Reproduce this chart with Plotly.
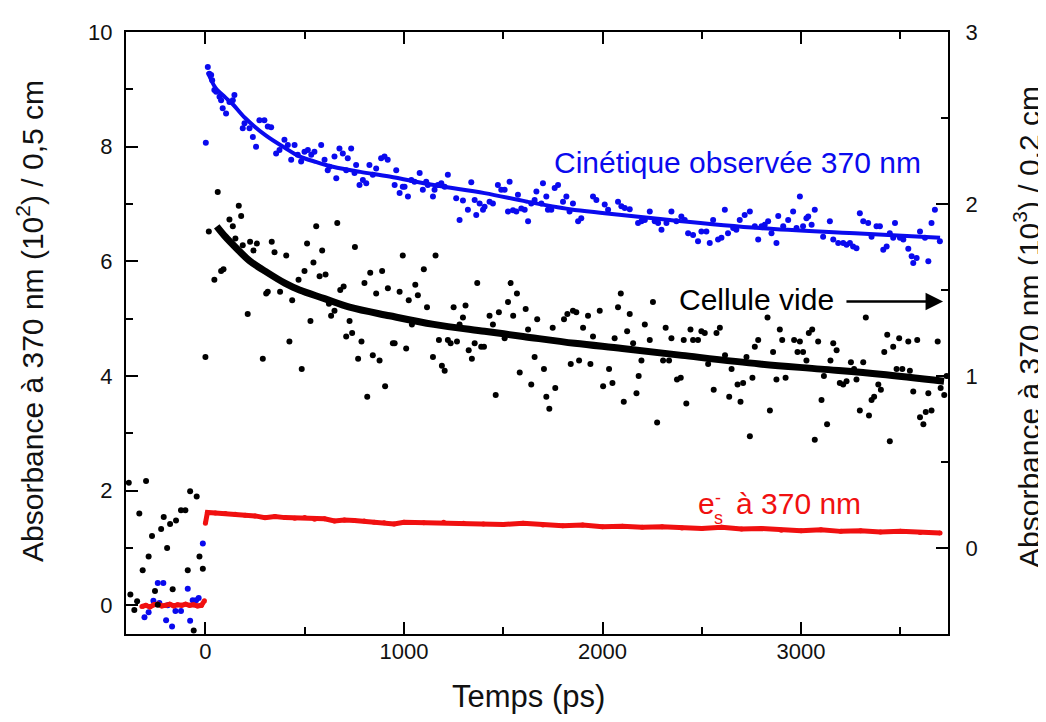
import plotly.graph_objects as go

# ---------------- data ----------------
# Blue: observed kinetics at 370 nm (left axis, 10^2 / 0.5 cm)
blue_t = [-307, -286, -262, -240, -232, -212, -198, -190, -168, -151, -123, -89, -77, -64, -47, -34, -13,
          2, 12, 20, 29, 34, 45, 54, 71, 79, 87, 104, 121, 138, 146, 188, 197, 222, 239, 255, 272,
          297, 314, 331, 356, 373, 398, 415, 432, 449, 465, 482, 499, 516, 533, 549, 583, 600, 616, 625, 650,
          659, 675, 692, 709, 717, 734, 751, 759, 776, 793, 810, 826, 843, 860, 885, 902, 918,
          953, 961, 978, 994, 1003, 1020, 1037, 1053, 1079, 1095, 1112, 1120, 1146, 1154, 1171, 1188, 1205, 1221, 1263, 1280,
          1297, 1322, 1339, 1356, 1364, 1381, 1398, 1406, 1431, 1448, 1473, 1490, 1507, 1524, 1532, 1549, 1566, 1574, 1591, 1608,
          1625, 1641, 1658, 1667, 1692, 1700, 1717, 1725, 1742, 1759, 1776, 1801, 1818, 1834,
          1851, 1877, 1893, 1952, 1969, 2011, 2028, 2078, 2095, 2112, 2137, 2179, 2196, 2213, 2238, 2263, 2280, 2297, 2322, 2347,
          2372, 2397, 2414, 2431, 2456, 2481, 2498, 2523, 2540, 2557, 2582, 2599, 2616, 2632, 2658, 2674, 2691, 2716, 2742, 2767, 2784,
          2801, 2817, 2834, 2851, 2876, 2885, 2910, 2935, 2960, 2977, 2994, 3010, 3027, 3036, 3053, 3069, 3111, 3145, 3162, 3187,
          3212, 3229, 3246, 3262, 3279, 3296, 3313, 3338, 3355, 3380, 3397, 3414, 3431, 3447, 3464, 3473, 3498, 3515, 3540, 3557,
          3565, 3582, 3599, 3624, 3641, 3657, 3674, 3699]
blue_v = [-0.21, -0.12, 0.08, 0.39, 0.04, 0.39, -0.26, 0.00, -0.37, -0.10, -0.10, 0.29, -0.27, 0.09, 0.09, 0.13, 1.08,
          8.07, 9.39, 9.27, 9.25, 9.16, 8.99, 8.96, 8.87, 8.81, 8.67, 8.58, 8.78, 8.81, 8.90, 8.32, 8.41, 8.32, 8.17, 8.00, 8.46,
          8.46, 8.35, 8.34, 7.88, 7.94, 8.12, 8.03, 7.77, 8.03, 7.86, 7.74, 7.91, 7.94, 7.86, 7.91, 8.03, 7.77, 7.59, 7.65, 7.83,
          7.45, 7.97, 7.88, 7.59, 7.80, 7.97, 7.54, 7.68, 7.33, 7.42, 7.36, 7.68, 7.51, 7.62, 7.80, 7.83, 7.77,
          7.33, 7.59, 7.19, 7.30, 7.30, 7.13, 7.42, 7.39, 7.54, 7.25, 7.39, 7.33, 7.13, 7.25, 7.33, 7.36, 7.30, 7.51, 7.10, 6.72,
          7.06, 6.90, 7.38, 7.07, 6.81, 7.01, 6.90, 6.95, 7.04, 7.01, 7.33, 7.25, 7.25, 6.87, 7.39, 6.89, 6.87, 7.16, 6.92, 6.90,
          6.70, 7.01, 7.07, 7.22, 7.01, 7.36, 7.13, 6.90, 6.90, 7.28, 7.33, 7.04, 7.13, 6.87,
          7.01, 6.70, 6.75, 7.13, 7.07, 6.99, 6.90, 7.04, 6.96, 6.93, 6.91, 6.67, 6.70, 6.72, 6.87, 6.70, 6.67, 6.55, 6.67, 6.87,
          6.70, 6.78, 6.72, 6.49, 6.46, 6.35, 6.52, 6.52, 6.32, 6.72, 6.38, 6.41, 6.90, 6.49, 6.58, 6.55, 6.72, 6.81, 6.87, 6.61, 6.38,
          6.61, 6.64, 6.70, 6.49, 6.32, 6.79, 6.61, 6.72, 6.87, 6.58, 7.13, 6.61, 6.75, 6.78, 6.64, 6.90, 6.43, 6.70, 6.38, 6.32,
          6.32, 6.29, 6.32, 6.26, 6.23, 6.84, 6.70, 6.67, 6.43, 6.61, 6.61, 6.20, 6.26, 6.49, 6.41, 6.67, 6.41, 6.38, 6.22, 6.09,
          5.97, 6.06, 6.52, 6.41, 6.00, 6.67, 6.90, 6.35]

blue_fit_t = [12, 50, 100, 138, 200, 302, 400, 474, 560, 642, 780, 927, 1150, 1406, 1620, 1835, 2011, 2339, 2792, 3272, 3700]
blue_fit_v = [9.30, 9.03, 8.86, 8.74, 8.50, 8.20, 7.98, 7.83, 7.73, 7.65, 7.56, 7.48, 7.33, 7.19, 7.04, 6.91, 6.84, 6.72, 6.58, 6.49, 6.41]

# Black: empty cell (right axis, 10^3 / 0.2 cm)
black_t = [-386, -378, -358, -344, -333, -316, -299, -286, -269, -254, -240, -223, -210, -193, -178, -165, -148, -123, -101, -89, -77, -59, -44, -30, -13,
           0, 17, 45, 62, 79, 91, 121, 138, 151, 168, 180, 188, 213, 225, 242, 259, 289, 306, 314, 334,
           348, 376, 407, 423, 437, 469, 485, 499, 512, 529, 544, 558, 575, 588, 605, 622, 633, 650, 664, 679,
           696, 709, 726, 739, 753, 769, 786, 801, 815, 830, 843, 860, 877, 890, 905, 919,
           944, 953, 978, 994, 1011, 1024, 1040, 1057, 1070, 1100, 1116, 1146, 1159, 1176, 1191, 1205, 1221, 1235, 1250, 1267,
           1280, 1297, 1310, 1326, 1342, 1356, 1369, 1389, 1403, 1431, 1448, 1462, 1478, 1507, 1524, 1537, 1550, 1569, 1583, 1613,
           1625, 1641, 1658, 1671, 1705, 1717, 1732, 1749, 1762, 1806, 1823, 1840, 1851,
           1868, 1882, 1902, 1927, 1939, 1952, 1986, 2003, 2033, 2050, 2061, 2078, 2092, 2107, 2124, 2137, 2154, 2171, 2182, 2196,
           2213, 2238, 2254, 2275, 2305, 2318, 2335, 2347, 2375, 2394, 2409, 2422, 2443, 2456, 2481, 2498, 2515, 2532, 2560, 2574,
           2591, 2617, 2638, 2650, 2680, 2695, 2708, 2725, 2742, 2755, 2767, 2784,
           2831, 2843, 2859, 2876, 2893, 2905, 2922, 2965, 2982, 2994, 3010, 3027, 3039, 3056, 3069, 3086, 3103, 3115, 3131, 3148,
           3162, 3179, 3195, 3212, 3229, 3251, 3267, 3279, 3296, 3313, 3326, 3342, 3355, 3368, 3389, 3402, 3419, 3434, 3447, 3464,
           3481, 3494, 3510, 3540, 3548, 3565, 3585, 3599, 3616, 3628, 3641, 3657, 3688, 3703, 3721, 3733]
black_v = [0.38, -0.27, -0.36, -0.31, 0.20, -0.13, 0.39, -0.05, 0.07, -0.25, -0.33, 0.11, 0.18, 0.00, 0.14, -0.24, 0.16, 0.22, 0.22, -0.13, 0.33, -0.48, 0.30, -0.05, -0.12,
           1.11, 1.84, 1.56, 2.07, 1.61, 1.62, 1.91, 1.87, 1.80, 1.99, 1.93, 1.76, 1.36, 1.78, 1.73, 1.77, 1.10, 1.48, 1.49, 1.78,
           1.72, 1.49, 1.70, 1.20, 1.44, 1.56, 1.04, 1.61, 1.77, 1.32, 1.66, 1.87, 1.58, 1.73, 1.59, 1.42, 1.35, 1.38, 1.89, 1.50,
           1.52, 1.23, 1.32, 1.25, 1.75, 1.10, 1.20, 1.54, 0.88, 1.60, 1.12, 1.48, 1.09, 1.61, 0.94, 1.51,
           1.19, 1.19, 1.49, 1.70, 1.16, 1.44, 1.30, 1.53, 1.47, 1.62, 1.40, 1.11, 1.70, 1.21, 1.06, 1.03, 1.21, 1.19, 1.40, 1.20,
           1.30, 1.34, 1.41, 1.15, 1.10, 1.19, 1.54, 1.17, 1.17, 1.35, 1.30, 0.89, 1.37, 1.22, 1.43, 1.54, 1.35, 1.48, 1.02, 1.39,
           1.27, 0.95, 1.11, 1.33, 1.04, 0.88, 0.81, 1.28, 0.93, 1.33, 1.36, 1.07, 1.38,
           1.37, 1.09, 1.28, 1.35, 1.07, 1.23, 1.38, 0.94, 1.04, 0.96, 1.22, 1.40, 1.48, 0.85, 1.26, 1.36, 1.19, 0.90, 1.00, 1.09,
           1.30, 1.21, 1.43, 0.73, 1.09, 1.28, 1.09, 1.22, 0.98, 0.99, 1.21, 0.84, 1.27, 1.21, 1.21, 1.26, 1.25, 1.07, 0.92, 1.25,
           1.28, 1.12, 0.88, 1.04, 0.95, 0.85, 0.96, 1.11, 0.65, 0.99, 1.17, 1.21,
           1.34, 0.80, 1.14, 0.98, 1.27, 1.21, 0.99, 1.21, 1.14, 1.20, 1.14, 1.09, 1.25, 1.27, 0.63, 1.20, 0.86, 1.00, 0.72, 1.09,
           1.19, 1.15, 0.96, 0.95, 0.97, 1.08, 1.04, 0.98, 0.80, 1.08, 1.34, 0.77, 0.86, 0.88, 0.95, 0.92, 1.14, 1.24, 0.62, 1.17,
           1.04, 1.22, 1.04, 1.20, 1.03, 0.91, 1.21, 0.76, 0.72, 0.79, 0.90, 0.80, 1.20, 0.93, 0.89, 1.00]

black_fit_t = [57, 100, 150, 222, 300, 400, 474, 600, 726, 927, 1150, 1406, 1600, 1860, 2100, 2400, 2792, 3100, 3400, 3720]
black_fit_v = [1.87, 1.81, 1.75, 1.67, 1.61, 1.54, 1.50, 1.45, 1.40, 1.35, 1.30, 1.26, 1.23, 1.19, 1.16, 1.12, 1.07, 1.04, 1.01, 0.97]

# Red: solvated electron e_s- at 370 nm (left axis)
red_t = [-320, -300, -280, -260, -240, -220, -200, -180, -160, -140, -120, -100, -80, -60, -40, -20, -5, None,
         0, 10, 50, 100, 150, 200, 250, 300, 350, 400, 450, 500, 550, 600, 650, 700, 750, 800, 850, 900, 950,
         1000, 1100, 1200, 1300, 1400, 1500, 1600, 1700, 1800, 1900, 2000, 2100, 2200, 2300, 2400, 2500, 2600,
         2700, 2800, 2900, 3000, 3100, 3200, 3300, 3400, 3500, 3600, 3700]
red_v = [-0.02, 0.00, -0.03, 0.01, 0.02, -0.01, 0.00, 0.02, -0.01, 0.01, 0.00, 0.02, 0.00, 0.01, -0.01, 0.00, 0.08, None,
         1.43, 1.62, 1.61, 1.60, 1.59, 1.57, 1.56, 1.53, 1.55, 1.53, 1.52, 1.53, 1.50, 1.51, 1.47, 1.49, 1.48, 1.47, 1.45, 1.44, 1.42,
         1.45, 1.44, 1.45, 1.43, 1.42, 1.41, 1.43, 1.40, 1.39, 1.40, 1.37, 1.38, 1.36, 1.37, 1.35, 1.34, 1.36,
         1.33, 1.34, 1.31, 1.30, 1.32, 1.29, 1.30, 1.28, 1.29, 1.27, 1.26]

x_ticks = [0, 1000, 2000, 3000]
y_left_ticks = [0, 2, 4, 6, 8, 10]
y_right_ticks = [0, 1, 2, 3]

FONT = "Liberation Sans, Arial, sans-serif"
BLUE = "#0a0aee"
RED = "#f01010"

fig = go.Figure()
fig.add_trace(go.Scatter(x=black_t, y=black_v, mode="markers", yaxis="y2",
                         marker=dict(color="black", size=6), showlegend=False))
fig.add_trace(go.Scatter(x=black_fit_t, y=black_fit_v, mode="lines", yaxis="y2",
                         line=dict(color="black", width=7, shape="spline"), showlegend=False))
fig.add_trace(go.Scatter(x=blue_t, y=blue_v, mode="markers",
                         marker=dict(color=BLUE, size=6), showlegend=False))
fig.add_trace(go.Scatter(x=blue_fit_t, y=blue_fit_v, mode="lines",
                         line=dict(color=BLUE, width=4, shape="spline"), showlegend=False))
fig.add_trace(go.Scatter(x=red_t, y=red_v, mode="lines+markers", connectgaps=False,
                         line=dict(color=RED, width=5), marker=dict(color=RED, size=5),
                         showlegend=False))

axis_common = dict(showgrid=False, zeroline=False, showline=True, linecolor="black", linewidth=2,
                   ticks="inside", ticklen=12, tickwidth=2, tickcolor="black",
                   tickfont=dict(family=FONT, size=22, color="#111111"))

# The page body adds an 8 px offset; margins compensate so the plot frame
# lands at x 126..948, y 30..634 in the 1046x722 window.
fig.update_layout(
    width=1046, height=722,
    margin=dict(l=118, r=106, t=22, b=96),
    paper_bgcolor="white", plot_bgcolor="white",
    font=dict(family=FONT, color="black"),
    xaxis=dict(range=[-400, 3740], tickvals=x_ticks, mirror="ticks",
               minor=dict(ticks="inside", ticklen=7, tickwidth=2, tickcolor="black", dtick=500, tick0=0),
               ticklabelstandoff=-3, **axis_common),
    yaxis=dict(range=[-0.5, 10], tickvals=y_left_ticks,
               minor=dict(ticks="inside", ticklen=7, tickwidth=2, tickcolor="black", dtick=1, tick0=0),
               ticklabelstandoff=7, **axis_common),
    yaxis2=dict(range=[-0.5, 3], tickvals=y_right_ticks, overlaying="y", side="right",
                minor=dict(ticks="inside", ticklen=7, tickwidth=2, tickcolor="black", dtick=0.5, tick0=0),
                ticklabelstandoff=11, **axis_common),
)

ann = []
# axis titles
ann.append(dict(text="Temps (ps)", xref="paper", yref="paper", x=0.49, y=0, xanchor="center", yanchor="middle",
                yshift=-62, showarrow=False, font=dict(family=FONT, size=31, color="#111111")))
ann.append(dict(text="Absorbance à 370 nm (10<sup>2</sup>) / 0,5 cm", xref="paper", yref="paper", x=0, y=0.52,
                xanchor="center", yanchor="middle", xshift=-96, textangle=-90, showarrow=False,
                font=dict(family=FONT, size=30, color="#111111")))
ann.append(dict(text="Absorbance à 370 nm (10<sup>3</sup>) / 0,2 cm", xref="paper", yref="paper", x=1, y=0.51,
                xanchor="center", yanchor="middle", xshift=79, textangle=-90, showarrow=False,
                font=dict(family=FONT, size=30, color="#111111")))
# series labels
ann.append(dict(text="Cinétique observée 370 nm", x=2681, y=7.72, xref="x", yref="y",
                xanchor="center", yanchor="middle", showarrow=False, font=dict(family=FONT, size=30, color=BLUE)))
ann.append(dict(text="Cellule vide", x=2777, y=5.34, xref="x", yref="y",
                xanchor="center", yanchor="middle", showarrow=False, font=dict(family=FONT, size=30, color="black")))
ann.append(dict(text="", x=3715, y=5.30, ax=3221, ay=5.30, xref="x", yref="y", axref="x", ayref="y",
                showarrow=True, arrowhead=2, arrowsize=1.4, arrowwidth=2.5, arrowcolor="black"))
ann.append(dict(text="e", x=2470, y=1.78, xref="x", yref="y", xanchor="left", yanchor="middle",
                showarrow=False, font=dict(family=FONT, size=30, color=RED)))
ann.append(dict(text="s", x=2553, y=1.52, xref="x", yref="y", xanchor="left", yanchor="middle",
                showarrow=False, font=dict(family=FONT, size=18, color=RED)))
ann.append(dict(text="-", x=2556, y=1.88, xref="x", yref="y", xanchor="left", yanchor="middle",
                showarrow=False, font=dict(family=FONT, size=18, color=RED)))
ann.append(dict(text="à 370 nm", x=2662, y=1.78, xref="x", yref="y", xanchor="left", yanchor="middle",
                showarrow=False, font=dict(family=FONT, size=30, color=RED)))
fig.update_layout(annotations=ann)

fig.write_html("out.html")
